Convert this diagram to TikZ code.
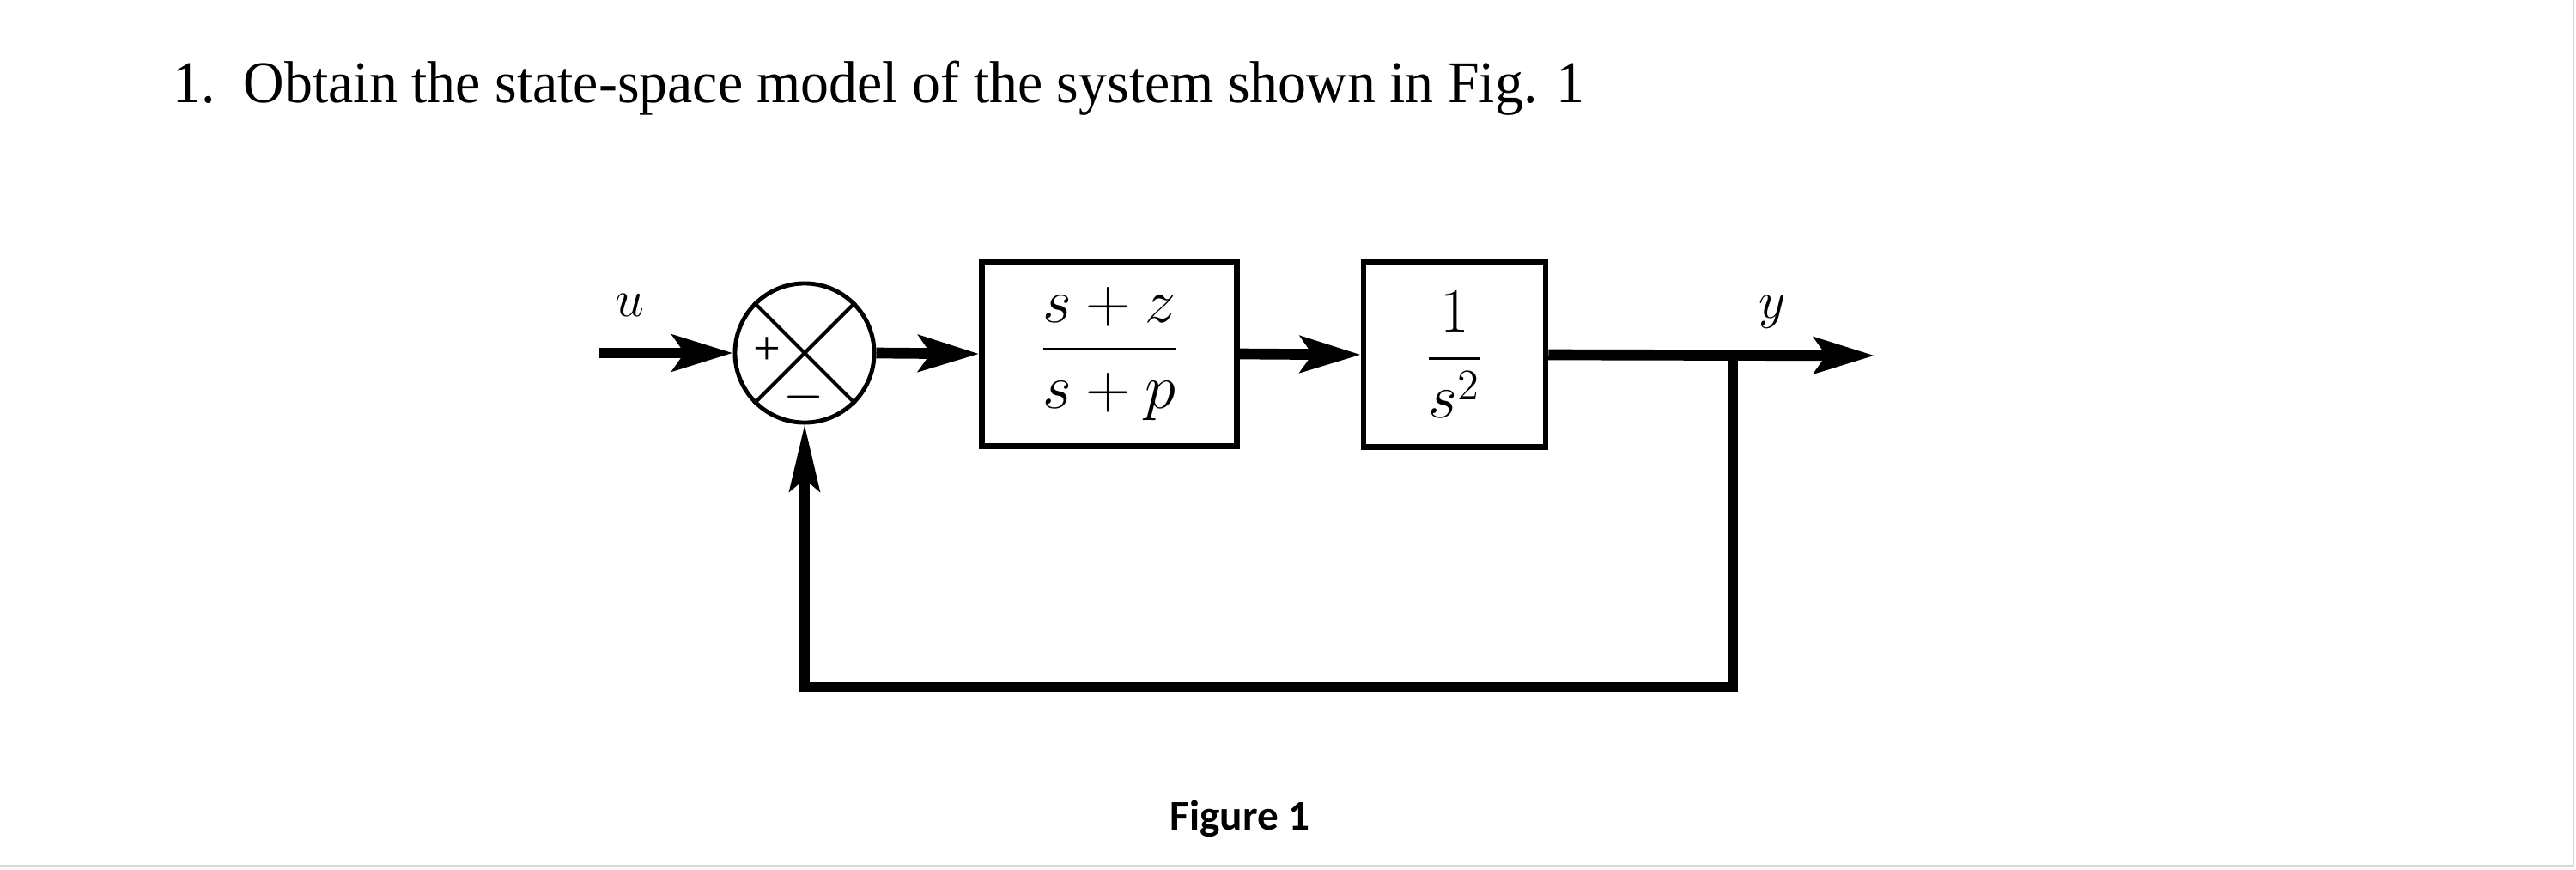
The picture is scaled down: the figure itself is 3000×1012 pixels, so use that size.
\documentclass[tikz,border=0pt]{standalone}
\usepackage{amsmath}
\usepackage{fontspec}
\setmainfont{Liberation Serif}
\newfontfamily\capfont{Carlito}
\usetikzlibrary{arrows.meta}
\begin{document}
\begin{tikzpicture}[x=0.01cm,y=-0.01cm,
  blk/.style={draw, line width=1.8pt, inner sep=0pt, minimum height=2.15cm},
  sumc/.style={draw, circle, line width=1.4pt, minimum size=1.62cm, inner sep=0pt},
  sig/.style={line width=3.6pt, -{Stealth[length=20pt,width=12pt,inset=4pt]}},
  fb/.style={line width=3.2pt, line join=miter, -{Stealth[length=22pt,width=10pt,inset=4pt]}},
  mtxt/.style={font=\fontsize{19.5}{23}\selectfont},
  lbl/.style={font=\fontsize{17}{20}\selectfont, inner sep=0pt}
]
\useasboundingbox (0,0) rectangle (3000,1012);
\fill[white] (0,0) rectangle (3000,1012);
\draw[black!15, line width=0.8pt] (0,1008) -- (2997,1008) -- (2997,0);

% title
\node[anchor=base west, inner sep=0pt, xscale=0.955, font=\fontsize{19.6}{23}\selectfont] (title) at (201,119)
  {1.\ \ Obtain the state-space model of the system shown in Fig. 1};

% summing junction
\node[sumc] (sum) at (937,411) {};
\draw[line width=1.2pt] (sum.north west) -- (sum.south east);
\draw[line width=1.2pt] (sum.north east) -- (sum.south west);
\node[lbl, font=\fontsize{16}{18}\selectfont] (plus) at (893,409) {+};
\node[lbl, font=\fontsize{16}{18}\selectfont] (minus) at (936,462) {$-$};

% blocks
\node[blk, mtxt, minimum width=2.97cm] (b1) at (1292,412) {$\dfrac{s+z}{s+p}$};
\node[blk, mtxt, minimum width=2.12cm] (b2) at (1694,413) {$\dfrac{1}{s^2}$};

% coordinates
\coordinate (uin) at (698,411);
\coordinate (yout) at (2183,414);
\coordinate (br) at (2018,414);
\coordinate (fbr) at (2018,800);
\coordinate (fbl) at (937,800);

% labels
\node[lbl] (ulab) at (733,355) {$u$};
\node[lbl] (ylab) at (2064,363) {$y$};

% connectors
\draw[sig] (uin) -- (sum.west);
\draw[sig] (sum.east) -- (b1.west);
\draw[sig] (b1.east) -- (b2.west);
\draw[sig] (b2.east) -- (yout);
\draw[fb] (br) -- (fbr) -- (fbl) -- (sum.south);

% caption
\node[font=\capfont\bfseries\fontsize{14}{16}\selectfont, inner sep=0pt] (cap) at (1444,953) {Figure 1};
\end{tikzpicture}
\end{document}
